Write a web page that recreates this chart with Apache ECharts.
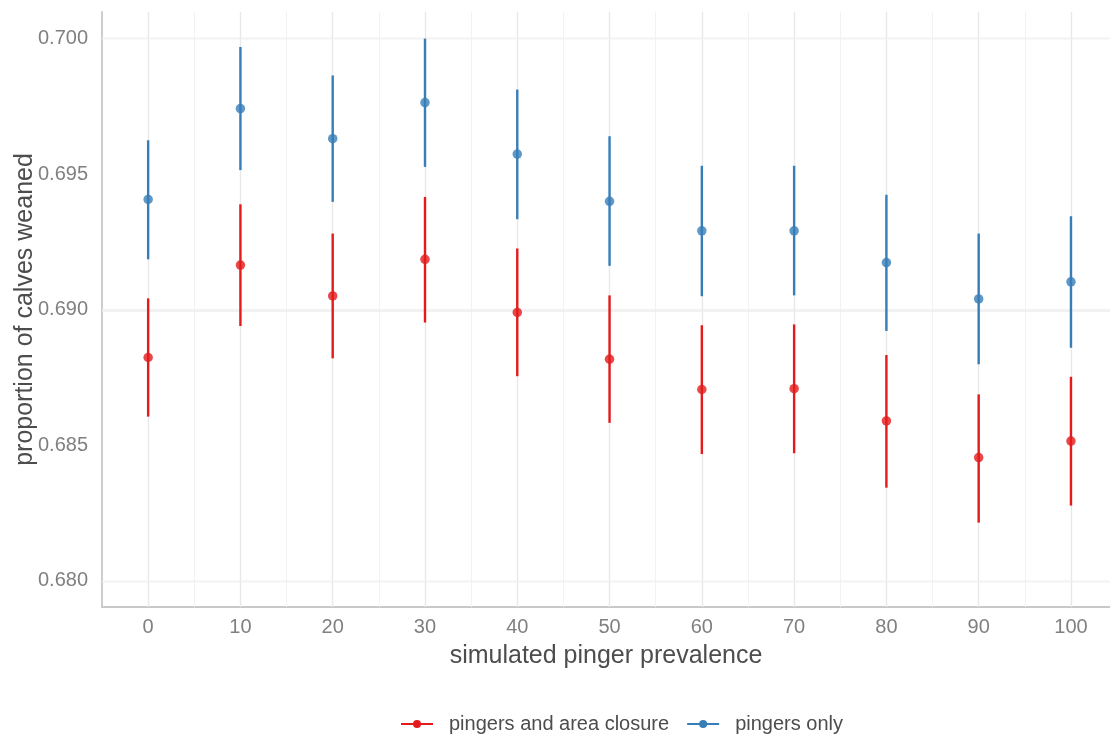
<!DOCTYPE html>
<html>
<head>
<meta charset="utf-8">
<title>Proportion of calves weaned</title>
<script src="https://cdn.jsdelivr.net/npm/echarts@6/dist/echarts.min.js"></script>
<style>
  html, body { margin: 0; padding: 0; background: #ffffff; }
  #chart { width: 1110px; height: 737px; }
</style>
</head>
<body>
<div id="chart"></div>
<script>
// Simulated pinger prevalence (%)
const prevalence = [0, 10, 20, 30, 40, 50, 60, 70, 80, 90, 100];

// Pingers and area closure: estimate with lower / upper interval
const closureMean  = [0.68824, 0.69165, 0.69051, 0.69186, 0.68990, 0.68818, 0.68706, 0.68709, 0.68590, 0.68455, 0.68516];
const closureLow   = [0.68606, 0.68940, 0.68821, 0.68953, 0.68755, 0.68583, 0.68468, 0.68471, 0.68344, 0.68215, 0.68278];
const closureHigh  = [0.69042, 0.69389, 0.69281, 0.69416, 0.69226, 0.69053, 0.68943, 0.68946, 0.68833, 0.68688, 0.68753];

// Pingers only: estimate with lower / upper interval
const pingerMean   = [0.69407, 0.69742, 0.69631, 0.69764, 0.69574, 0.69400, 0.69291, 0.69291, 0.69174, 0.69040, 0.69103];
const pingerLow    = [0.69186, 0.69515, 0.69398, 0.69527, 0.69334, 0.69162, 0.69050, 0.69053, 0.68922, 0.68799, 0.68860];
const pingerHigh   = [0.69625, 0.69969, 0.69864, 0.70000, 0.69812, 0.69640, 0.69531, 0.69531, 0.69424, 0.69281, 0.69345];

// Axis ticks and grid positions
const xTicks      = [0, 10, 20, 30, 40, 50, 60, 70, 80, 90, 100];
const xMinorGrid  = [5, 15, 25, 35, 45, 55, 65, 75, 85, 95];
const yTicks      = [0.680, 0.685, 0.690, 0.695, 0.700];
const yMinorGrid  = [0.6825, 0.6875, 0.6925, 0.6975];

const seriesNames = ['pingers and area closure', 'pingers only'];
const RED = '#E41A1C';
const BLUE = '#377EB8';
const FONT = 'Liberation Sans, Arial, sans-serif';

const chart = echarts.init(document.getElementById('chart'), null, { renderer: 'canvas' });

function rangeData(low, high) {
  return prevalence.map((x, i) => [x, low[i], high[i]]);
}
function pointData(mean) {
  return prevalence.map((x, i) => [x, mean[i]]);
}
function rangeSeries(name, low, high, color) {
  return {
    name: name,
    type: 'custom',
    z: 3,
    silent: true,
    data: rangeData(low, high),
    encode: { x: 0, y: [1, 2] },
    renderItem: function (params, api) {
      const x = api.value(0);
      const top = api.coord([x, api.value(2)]);
      const bottom = api.coord([x, api.value(1)]);
      return {
        type: 'line',
        shape: { x1: top[0], y1: top[1], x2: bottom[0], y2: bottom[1] },
        style: { stroke: color, lineWidth: 2.4 }
      };
    }
  };
}
function pointSeries(name, mean, color) {
  return {
    name: name,
    type: 'scatter',
    z: 4,
    silent: true,
    symbol: 'circle',
    symbolSize: 9.5,
    itemStyle: { color: color },
    data: pointData(mean)
  };
}

const MAJOR = { type: 'solid', color: '#e8e8e8', width: 1.4 };
const MINOR = { type: 'solid', color: '#f2f2f2', width: 1 };
const gridLines = [];
xTicks.forEach(v => gridLines.push({ xAxis: v, lineStyle: MAJOR }));
xMinorGrid.forEach(v => gridLines.push({ xAxis: v, lineStyle: MINOR }));
yTicks.forEach(v => gridLines.push({ yAxis: v, lineStyle: MAJOR }));
yMinorGrid.forEach(v => gridLines.push({ yAxis: v, lineStyle: MINOR }));

// line-with-dot key glyph
const legendIcon = 'path://M0,3 L32,3 L32,5 L0,5 Z M20,4 A4,4 0 1,1 12,4 A4,4 0 1,1 20,4 Z';

const option = {
  animation: false,
  backgroundColor: '#ffffff',
  textStyle: { fontFamily: FONT },
  grid: { left: 102, right: 0, top: 12, bottom: 130, containLabel: false, outerBoundsMode: 'none' },
  legend: {
    left: 401,
    top: 714,
    padding: 0,
    itemWidth: 32,
    itemHeight: 8,
    itemGap: 18,
    selectedMode: false,
    textStyle: { fontFamily: FONT, fontSize: 20, color: '#4d4d4d', padding: [0, 0, 0, 11] },
    data: [
      { name: seriesNames[0], icon: legendIcon, itemStyle: { color: RED } },
      { name: seriesNames[1], icon: legendIcon, itemStyle: { color: BLUE } }
    ]
  },
  xAxis: {
    type: 'value',
    min: -5,
    max: 104.23,
    interval: 5,
    name: 'simulated pinger prevalence',
    nameLocation: 'middle',
    nameGap: 37,
    nameMoveOverlap: false,
    nameTextStyle: { fontFamily: FONT, fontSize: 25, color: '#4d4d4d' },
    axisLine: { show: true, onZero: false, lineStyle: { color: '#c8c8c8', width: 1.8 } },
    axisTick: { show: false },
    splitLine: { show: false },
    axisLabel: {
      fontFamily: FONT,
      fontSize: 20,
      color: '#808080',
      margin: 10,
      showMinLabel: false,
      showMaxLabel: false,
      formatter: function (v) {
        return xTicks.indexOf(v) >= 0 ? String(v) : '';
      }
    }
  },
  yAxis: {
    type: 'value',
    min: 0.67904,
    max: 0.70098,
    splitNumber: 5,
    name: 'proportion of calves weaned',
    nameLocation: 'middle',
    nameGap: 64,
    nameMoveOverlap: false,
    nameTextStyle: { fontFamily: FONT, fontSize: 25, color: '#4d4d4d' },
    axisLine: { show: true, onZero: false, lineStyle: { color: '#c8c8c8', width: 1.8 } },
    axisTick: { show: false },
    splitLine: { show: false },
    axisLabel: {
      fontFamily: FONT,
      fontSize: 20,
      color: '#808080',
      margin: 14,
      showMinLabel: false,
      showMaxLabel: false,
      formatter: function (v) {
        const hit = yTicks.some(t => Math.abs(t - v) < 1e-9);
        return hit ? v.toFixed(3) : '';
      }
    }
  },
  series: [
    {
      name: 'grid',
      type: 'line',
      data: [],
      silent: true,
      markLine: {
        silent: true,
        z: 1,
        symbol: ['none', 'none'],
        label: { show: false },
        emphasis: { disabled: true },
        animation: false,
        data: gridLines
      }
    },
    rangeSeries(seriesNames[0], closureLow, closureHigh, RED),
    rangeSeries(seriesNames[1], pingerLow, pingerHigh, BLUE),
    pointSeries(seriesNames[0], closureMean, RED),
    pointSeries(seriesNames[1], pingerMean, BLUE)
  ]
};

chart.setOption(option);
</script>
</body>
</html>
